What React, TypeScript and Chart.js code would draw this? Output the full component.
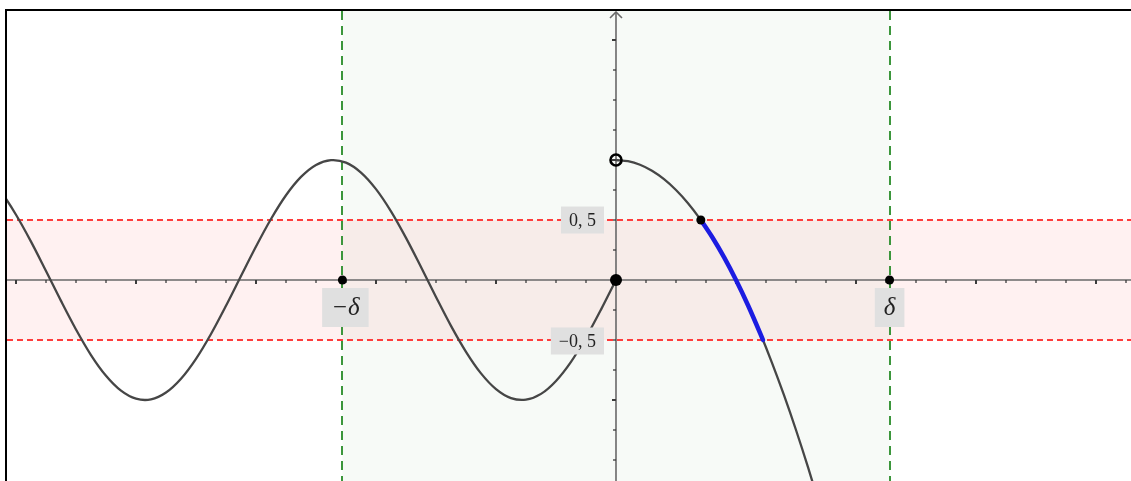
import { useEffect, useRef } from "react";
import { Chart, registerables } from "chart.js";

Chart.register(...registerables);

// Neighbourhood half-widths
const DELTA = 2.28;
const EPSILON = 0.5;

// f(x) for x < 0 (oscillating branch)
const waveX = [-5.25, -5.125, -5.0, -4.875, -4.75, -4.625, -4.5, -4.375, -4.25, -4.125, -4.0, -3.875, -3.75, -3.625, -3.5, -3.375, -3.25, -3.125, -3.0, -2.875, -2.75, -2.625, -2.5, -2.375, -2.25, -2.125, -2.0, -1.875, -1.75, -1.625, -1.5, -1.375, -1.25, -1.125, -1.0, -0.875, -0.75, -0.625, -0.5, -0.375, -0.25, -0.125, 0];
const waveY = [0.88, 0.735, 0.544, 0.32, 0.075, -0.174, -0.412, -0.625, -0.798, -0.922, -0.989, -0.995, -0.938, -0.823, -0.657, -0.45, -0.215, 0.033, 0.279, 0.508, 0.706, 0.859, 0.959, 0.999, 0.978, 0.895, 0.757, 0.572, 0.351, 0.108, -0.141, -0.382, -0.598, -0.778, -0.909, -0.984, -0.997, -0.949, -0.841, -0.682, -0.479, -0.247, 0];

// f(x) for x > 0 (falling branch)
const fallX = [0, 0.1, 0.2, 0.3, 0.4, 0.5, 0.6, 0.7, 0.8, 0.9, 1.0, 1.1, 1.2, 1.3, 1.4, 1.5, 1.6, 1.7];
const fallY = [1.0, 0.99, 0.96, 0.91, 0.84, 0.75, 0.64, 0.51, 0.36, 0.19, 0, -0.21, -0.44, -0.69, -0.96, -1.25, -1.56, -1.89];

// part of the falling branch that stays inside the ε-strip
const insideX = [0.707, 0.8, 0.9, 1.0, 1.1, 1.2, 1.225];
const insideY = [0.5, 0.36, 0.19, 0, -0.21, -0.44, -0.5];

// marked points
const dotX = [-DELTA, DELTA, 0, 0.707];
const dotY = [0, 0, 0, 0.5];
const dotR = [4.5, 4.5, 6, 4.5];
const holeX = [0];
const holeY = [1];

// labels
const levelValues = [EPSILON, -EPSILON];
const levelLabels = ["0, 5", "\u22120, 5"];
const deltaValues = [-DELTA, DELTA];
const deltaLabels = ["\u2212\u03b4", "\u03b4"];

const zip = (xs: number[], ys: number[]) => xs.map((x, i) => ({ x, y: ys[i] }));

const backdrop = {
  id: "backdrop",
  beforeDatasetsDraw(chart: any) {
    const { ctx, chartArea: a, scales } = chart;
    const sx = scales.x;
    const sy = scales.y;
    const x0 = sx.getPixelForValue(0);
    const y0 = sy.getPixelForValue(0);
    const xl = sx.getPixelForValue(-DELTA);
    const xr = sx.getPixelForValue(DELTA);
    const yt = sy.getPixelForValue(EPSILON);
    const yb = sy.getPixelForValue(-EPSILON);
    ctx.save();
    ctx.beginPath();
    ctx.rect(a.left, a.top, a.right - a.left, a.bottom - a.top);
    ctx.clip();

    // strips
    ctx.fillStyle = "rgba(40,120,40,0.035)";
    ctx.fillRect(xl, a.top, xr - xl, a.bottom - a.top);
    ctx.fillStyle = "rgba(255,0,0,0.055)";
    ctx.fillRect(a.left, yt, a.right - a.left, yb - yt);

    // dashed boundaries
    ctx.lineWidth = 2;
    ctx.strokeStyle = "rgb(255,60,60)";
    ctx.setLineDash([6, 4]);
    for (const v of levelValues) {
      const py = Math.round(sy.getPixelForValue(v));
      ctx.beginPath();
      ctx.moveTo(a.left, py);
      ctx.lineTo(a.right, py);
      ctx.stroke();
    }
    ctx.strokeStyle = "rgb(60,150,60)";
    ctx.setLineDash([9, 6]);
    for (const v of deltaValues) {
      const px = Math.round(sx.getPixelForValue(v));
      ctx.beginPath();
      ctx.moveTo(px, a.top);
      ctx.lineTo(px, a.bottom);
      ctx.stroke();
    }
    ctx.setLineDash([]);

    // axes
    ctx.strokeStyle = "rgb(105,105,105)";
    ctx.lineWidth = 1.6;
    ctx.beginPath();
    ctx.moveTo(a.left, y0);
    ctx.lineTo(a.right, y0);
    ctx.moveTo(x0, a.bottom);
    ctx.lineTo(x0, a.top + 1);
    ctx.stroke();
    ctx.beginPath();
    ctx.moveTo(x0 - 6, a.top + 7);
    ctx.lineTo(x0, a.top + 1);
    ctx.lineTo(x0 + 6, a.top + 7);
    ctx.stroke();

    // tick marks every 0.25
    ctx.strokeStyle = "rgb(60,60,60)";
    const step = 0.25;
    for (let v = Math.ceil(sx.min / step) * step; v <= sx.max; v += step) {
      if (Math.abs(v) < 1e-6) continue;
      const major = Math.abs(v - Math.round(v)) < 1e-6;
      const px = sx.getPixelForValue(v);
      ctx.lineWidth = major ? 2 : 1.3;
      ctx.beginPath();
      ctx.moveTo(px, y0);
      ctx.lineTo(px, y0 + (major ? 4 : 3));
      ctx.stroke();
    }
    for (let v = Math.ceil(sy.min / step) * step; v <= sy.max - 0.2; v += step) {
      if (Math.abs(v) < 1e-6) continue;
      const major = Math.abs(v - Math.round(v)) < 1e-6;
      const py = sy.getPixelForValue(v);
      ctx.lineWidth = major ? 2 : 1.3;
      ctx.beginPath();
      ctx.moveTo(x0, py);
      ctx.lineTo(x0 - (major ? 4 : 3), py);
      ctx.stroke();
    }
    ctx.restore();
  },
  afterDatasetsDraw(chart: any) {
    const { ctx, chartArea: a, scales } = chart;
    const sx = scales.x;
    const sy = scales.y;
    const x0 = sx.getPixelForValue(0);
    const y0 = sy.getPixelForValue(0);
    ctx.save();
    ctx.textBaseline = "middle";
    ctx.textAlign = "center";

    // ε labels, left of the y-axis
    ctx.font = "18px 'Liberation Serif', serif";
    levelValues.forEach((v, i) => {
      const txt = levelLabels[i];
      const w = ctx.measureText(txt).width + 16;
      const h = 27;
      const cy = sy.getPixelForValue(v) + (v < 0 ? 1 : 0);
      const right = x0 - 12;
      ctx.fillStyle = "rgb(224,224,224)";
      ctx.fillRect(right - w, cy - h / 2, w, h);
      ctx.fillStyle = "#222";
      ctx.fillText(txt, right - w / 2, cy + 1);
    });

    // δ labels, below the x-axis
    ctx.font = "italic 25px 'Liberation Serif', serif";
    deltaValues.forEach((v, i) => {
      const txt = deltaLabels[i];
      const w = ctx.measureText(txt).width + 18;
      const h = 39;
      const cx = sx.getPixelForValue(v) + (v < 0 ? 3 : 0);
      const top = y0 + 8;
      ctx.fillStyle = "rgb(224,224,224)";
      ctx.fillRect(cx - w / 2, top, w, h);
      ctx.fillStyle = "#222";
      ctx.fillText(txt, cx, top + h / 2 + 1);
    });

    // frame
    ctx.strokeStyle = "#000";
    ctx.lineWidth = 2;
    ctx.beginPath();
    ctx.moveTo(a.left - 1, a.bottom + 2);
    ctx.lineTo(a.left - 1, a.top - 1);
    ctx.lineTo(a.right + 2, a.top - 1);
    ctx.stroke();
    ctx.restore();
  },
};

export default function App() {
  const canvasRef = useRef<HTMLCanvasElement | null>(null);

  useEffect(() => {
    const canvas = canvasRef.current;
    if (!canvas) return;
    const chart = new Chart(canvas, {
      type: "line",
      data: {
        datasets: [
          {
            label: "hole",
            data: zip(holeX, holeY),
            showLine: false,
            pointRadius: 5.5,
            pointBorderWidth: 2.6,
            pointBorderColor: "#000",
            pointBackgroundColor: "rgba(0,0,0,0)",
            order: 0,
          },
          {
            label: "points",
            data: zip(dotX, dotY),
            showLine: false,
            pointRadius: dotR,
            pointBorderWidth: 0,
            pointBackgroundColor: "#000",
            pointBorderColor: "#000",
            order: 1,
          },
          {
            label: "inside",
            data: zip(insideX, insideY),
            borderColor: "rgb(28,28,225)",
            borderWidth: 4.5,
            pointRadius: 0,
            cubicInterpolationMode: "monotone",
            borderCapStyle: "round",
            order: 2,
          },
          {
            label: "fall",
            data: zip(fallX, fallY),
            borderColor: "rgb(70,70,70)",
            borderWidth: 2.3,
            pointRadius: 0,
            tension: 0.33,
            order: 3,
          },
          {
            label: "wave",
            data: zip(waveX, waveY),
            borderColor: "rgb(70,70,70)",
            borderWidth: 2.3,
            pointRadius: 0,
            tension: 0.33,
            order: 3,
          },
        ],
      },
      options: {
        animation: false,
        responsive: false,
        devicePixelRatio: 1,
        events: [],
        layout: { autoPadding: false, padding: { left: 7, top: 11, right: 0, bottom: 0 } },
        plugins: { legend: { display: false }, tooltip: { enabled: false } },
        scales: {
          x: { type: "linear", min: -5.075, max: 4.2917, display: false },
          y: { type: "linear", min: -1.675, max: 2.2417, display: false },
        },
      },
      plugins: [backdrop],
    } as any);
    return () => chart.destroy();
  }, []);

  return (
    <div style={{ position: "absolute", left: 0, top: 0, width: 1131, height: 481, background: "#fff" }}>
      <canvas ref={canvasRef} width={1131} height={481} style={{ display: "block" }} />
    </div>
  );
}
